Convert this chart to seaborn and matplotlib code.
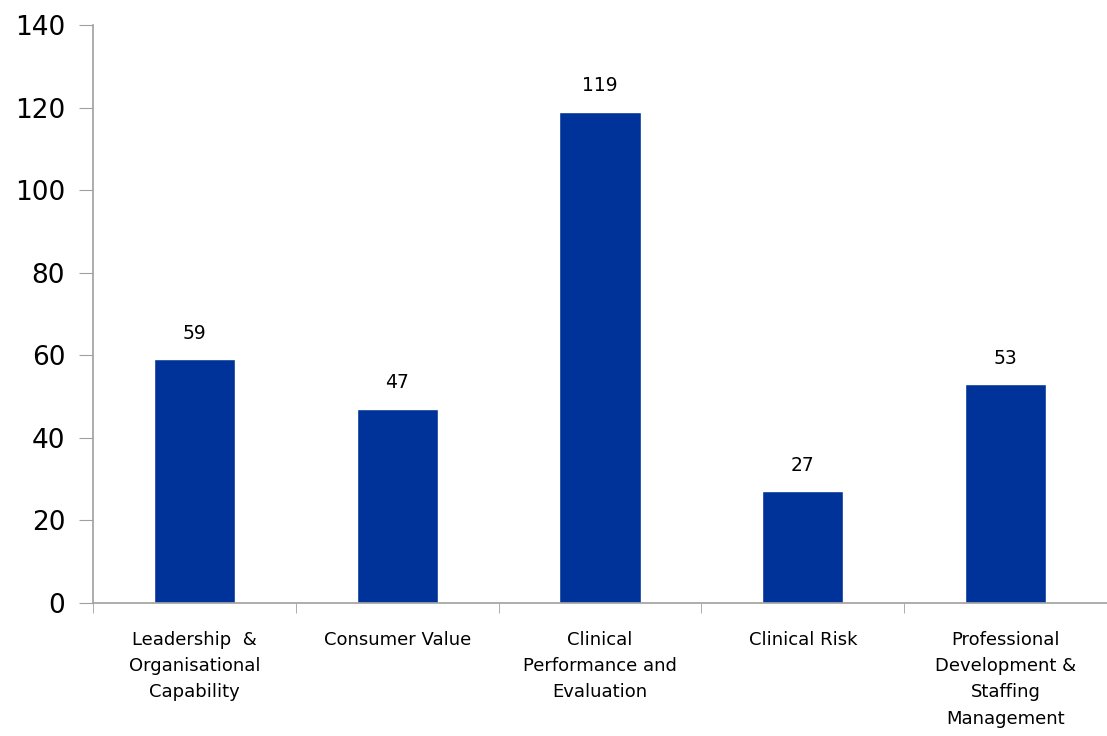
import numpy as np
import pandas as pd
import seaborn as sns
import matplotlib.pyplot as plt
from matplotlib.ticker import FixedLocator

categories = ["Leadership  &\nOrganisational\nCapability",
              "Consumer Value",
              "Clinical\nPerformance and\nEvaluation",
              "Clinical Risk",
              "Professional\nDevelopment &\nStaffing\nManagement"]
counts = [59, 47, 119, 27, 53]

df = pd.DataFrame({"category": categories, "count": counts})

sns.set_style("white")
plt.rcParams['font.family'] = ['DejaVu Sans']
plt.rcParams['text.color'] = 'black'
plt.rcParams['xtick.color'] = 'black'
plt.rcParams['ytick.color'] = 'black'

fig = plt.figure(figsize=(11.07, 7.36), dpi=100)
ax = fig.add_axes([0.084, 0.181, 0.916, 0.785])

sns.barplot(data=df, x="category", y="count", color="#003399", saturation=1,
            width=0.4, ax=ax)

for i, v in enumerate(counts):
    ax.text(i, v + 4, str(v), ha="center", va="bottom", fontsize=13.5)

ax.set_ylim(0, 140)
ax.set_yticks(range(0, 141, 20))
ax.set_xlim(-0.5, len(categories) - 0.5)
ax.set_xlabel("")
ax.set_ylabel("")

ax.tick_params(axis="y", labelsize=19, length=10, color="#a0a0a0",
               labelcolor="black", direction="out", left=True, pad=10)
ax.tick_params(axis="x", which="major", length=0, labelsize=13,
               labelcolor="black", pad=20)
for lbl in ax.get_xticklabels():
    lbl.set_linespacing(1.6)
ax.xaxis.set_minor_locator(FixedLocator(np.arange(-0.5, len(categories), 1.0)))
ax.tick_params(axis="x", which="minor", length=7, color="#a0a0a0",
               direction="out", bottom=True)

for side in ["top", "right"]:
    ax.spines[side].set_visible(False)
for side in ["left", "bottom"]:
    ax.spines[side].set_color("#a0a0a0")
    ax.spines[side].set_linewidth(1.2)

fig.savefig("out.png", dpi=100)
